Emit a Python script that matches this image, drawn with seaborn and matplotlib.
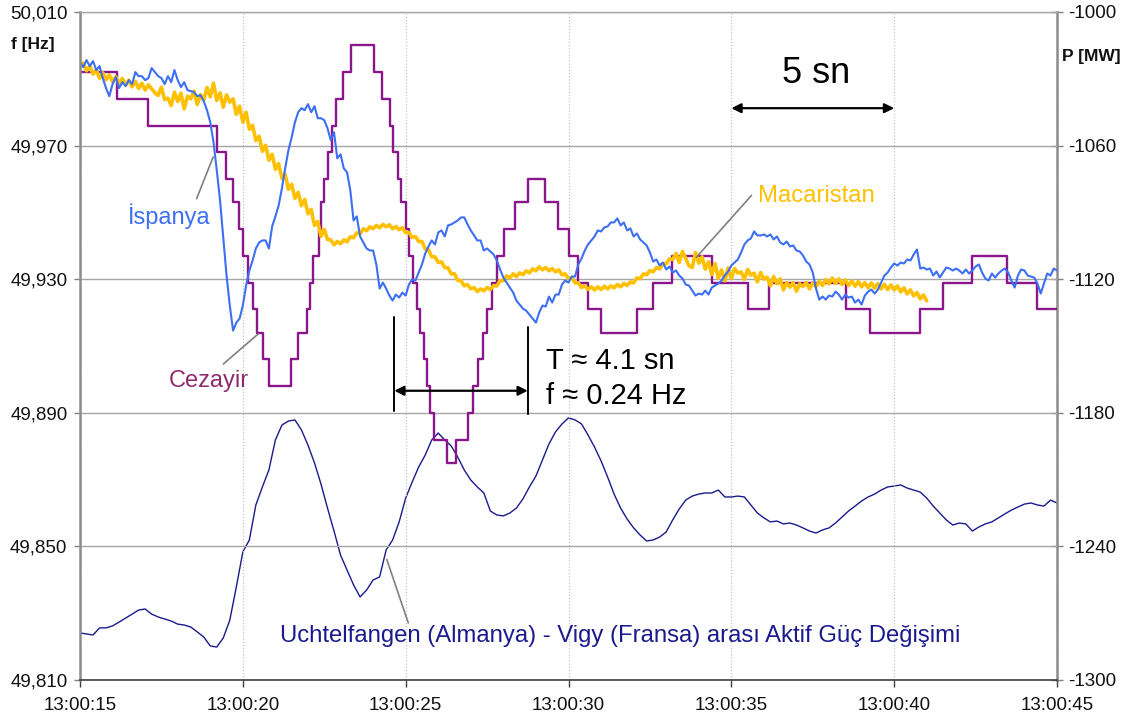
import numpy as np
import matplotlib
matplotlib.use("Agg")
import matplotlib.pyplot as plt
import seaborn as sns

# ---------------------------------------------------------------- data
# time is counted in seconds after 13:00:15
x_ticks = [0, 5, 10, 15, 20, 25, 30]
x_ticklabels = ["13:00:15", "13:00:20", "13:00:25", "13:00:30",
                "13:00:35", "13:00:40", "13:00:45"]
f_ticks = [49.810, 49.850, 49.890, 49.930, 49.970, 50.010]
f_ticklabels = ["49,810", "49,850", "49,890", "49,930", "49,970", "50,010"]
p_ticks = [-1300, -1240, -1180, -1120, -1060, -1000]
p_ticklabels = ["-1300", "-1240", "-1180", "-1120", "-1060", "-1000"]

# İspanya frequency [Hz], one sample every 0.1 s
spain_dt = 0.1
spain_f = [
    49.9950, 49.9935, 49.9956, 49.9938, 49.9953, 49.9926, 49.9938, 49.9902, 49.9872, 49.9848,
    49.9884, 49.9905, 49.9872, 49.9890, 49.9878, 49.9896, 49.9884, 49.9920, 49.9908, 49.9908,
    49.9896, 49.9902, 49.9932, 49.9920, 49.9908, 49.9902, 49.9884, 49.9908, 49.9890, 49.9926,
    49.9896, 49.9875, 49.9890, 49.9866, 49.9863, 49.9860, 49.9848, 49.9851, 49.9833, 49.9806,
    49.9770, 49.9710, 49.9626, 49.9536, 49.9425, 49.9311, 49.9221, 49.9146, 49.9170, 49.9182,
    49.9221, 49.9281, 49.9326, 49.9356, 49.9392, 49.9410, 49.9416, 49.9416, 49.9392, 49.9458,
    49.9488, 49.9521, 49.9572, 49.9632, 49.9686, 49.9725, 49.9770, 49.9800, 49.9812, 49.9806,
    49.9824, 49.9800, 49.9818, 49.9782, 49.9782, 49.9776, 49.9752, 49.9716, 49.9740, 49.9662,
    49.9674, 49.9632, 49.9620, 49.9566, 49.9476, 49.9488, 49.9428, 49.9410, 49.9392, 49.9386,
    49.9386, 49.9344, 49.9272, 49.9290, 49.9272, 49.9251, 49.9236, 49.9254, 49.9245, 49.9260,
    49.9251, 49.9284, 49.9299, 49.9296, 49.9320, 49.9344, 49.9377, 49.9398, 49.9416, 49.9404,
    49.9440, 49.9446, 49.9428, 49.9461, 49.9464, 49.9470, 49.9476, 49.9485, 49.9485, 49.9464,
    49.9446, 49.9431, 49.9416, 49.9416, 49.9386, 49.9392, 49.9383, 49.9374, 49.9356, 49.9329,
    49.9305, 49.9290, 49.9275, 49.9260, 49.9236, 49.9224, 49.9212, 49.9206, 49.9194, 49.9182,
    49.9170, 49.9200, 49.9221, 49.9218, 49.9248, 49.9230, 49.9254, 49.9254, 49.9284, 49.9296,
    49.9290, 49.9308, 49.9308, 49.9344, 49.9362, 49.9386, 49.9404, 49.9416, 49.9428, 49.9446,
    49.9443, 49.9455, 49.9458, 49.9470, 49.9470, 49.9482, 49.9461, 49.9470, 49.9446, 49.9452,
    49.9428, 49.9437, 49.9419, 49.9410, 49.9401, 49.9380, 49.9353, 49.9359, 49.9341, 49.9350,
    49.9329, 49.9338, 49.9320, 49.9326, 49.9311, 49.9302, 49.9284, 49.9281, 49.9266, 49.9251,
    49.9257, 49.9254, 49.9266, 49.9254, 49.9275, 49.9281, 49.9287, 49.9296, 49.9311, 49.9323,
    49.9341, 49.9350, 49.9359, 49.9380, 49.9404, 49.9416, 49.9422, 49.9443, 49.9431, 49.9431,
    49.9434, 49.9428, 49.9434, 49.9419, 49.9428, 49.9410, 49.9404, 49.9413, 49.9398, 49.9401,
    49.9386, 49.9383, 49.9371, 49.9353, 49.9344, 49.9320, 49.9272, 49.9239, 49.9248, 49.9239,
    49.9251, 49.9248, 49.9263, 49.9254, 49.9239, 49.9254, 49.9245, 49.9248, 49.9230, 49.9239,
    49.9224, 49.9251, 49.9263, 49.9269, 49.9257, 49.9269, 49.9290, 49.9311, 49.9320, 49.9335,
    49.9347, 49.9341, 49.9350, 49.9347, 49.9359, 49.9356, 49.9374, 49.9389, 49.9332, 49.9335,
    49.9329, 49.9332, 49.9311, 49.9323, 49.9305, 49.9320, 49.9335, 49.9332, 49.9326, 49.9332,
    49.9326, 49.9317, 49.9329, 49.9317, 49.9326, 49.9338, 49.9344, 49.9320, 49.9302, 49.9296,
    49.9317, 49.9305, 49.9317, 49.9326, 49.9332, 49.9320, 49.9296, 49.9275, 49.9311, 49.9329,
    49.9326, 49.9311, 49.9308, 49.9305, 49.9287, 49.9257, 49.9287, 49.9317, 49.9311, 49.9332,
    49.9326,
]

# Macaristan frequency [Hz], one sample every 0.1 s (record ends near 13:00:41)
hungary_dt = 0.1
hungary_f = [
    49.9935, 49.9947, 49.9924, 49.9938, 49.9914, 49.9926, 49.9902, 49.9918, 49.9897, 49.9912,
    49.9891, 49.9906, 49.9886, 49.9901, 49.9881, 49.9896, 49.9876, 49.9892, 49.9871, 49.9887,
    49.9866, 49.9882, 49.9870, 49.9858, 49.9850, 49.9875, 49.9838, 49.9842, 49.9820, 49.9860,
    49.9832, 49.9857, 49.9810, 49.9848, 49.9840, 49.9863, 49.9823, 49.9852, 49.9836, 49.9874,
    49.9846, 49.9887, 49.9835, 49.9858, 49.9815, 49.9852, 49.9830, 49.9840, 49.9794, 49.9818,
    49.9770, 49.9800, 49.9749, 49.9761, 49.9715, 49.9728, 49.9683, 49.9701, 49.9656, 49.9674,
    49.9629, 49.9646, 49.9602, 49.9614, 49.9569, 49.9584, 49.9542, 49.9560, 49.9520, 49.9539,
    49.9496, 49.9509, 49.9461, 49.9473, 49.9428, 49.9449, 49.9419, 49.9418, 49.9403, 49.9413,
    49.9406, 49.9418, 49.9412, 49.9427, 49.9424, 49.9439, 49.9436, 49.9451, 49.9445, 49.9457,
    49.9451, 49.9461, 49.9454, 49.9464, 49.9457, 49.9463, 49.9451, 49.9458, 49.9448, 49.9454,
    49.9439, 49.9440, 49.9425, 49.9428, 49.9413, 49.9413, 49.9391, 49.9388, 49.9367, 49.9367,
    49.9350, 49.9352, 49.9335, 49.9334, 49.9316, 49.9316, 49.9296, 49.9296, 49.9280, 49.9284,
    49.9271, 49.9275, 49.9263, 49.9271, 49.9265, 49.9275, 49.9269, 49.9281, 49.9280, 49.9296,
    49.9295, 49.9310, 49.9304, 49.9316, 49.9308, 49.9319, 49.9313, 49.9325, 49.9319, 49.9331,
    49.9325, 49.9337, 49.9328, 49.9335, 49.9325, 49.9332, 49.9322, 49.9328, 49.9313, 49.9316,
    49.9302, 49.9305, 49.9289, 49.9289, 49.9275, 49.9281, 49.9269, 49.9277, 49.9268, 49.9277,
    49.9269, 49.9279, 49.9271, 49.9280, 49.9274, 49.9284, 49.9277, 49.9287, 49.9281, 49.9292,
    49.9289, 49.9304, 49.9301, 49.9316, 49.9313, 49.9326, 49.9322, 49.9335, 49.9331, 49.9346,
    49.9346, 49.9361, 49.9359, 49.9377, 49.9350, 49.9383, 49.9362, 49.9340, 49.9335, 49.9380,
    49.9348, 49.9367, 49.9330, 49.9352, 49.9314, 49.9347, 49.9303, 49.9328, 49.9295, 49.9334,
    49.9302, 49.9332, 49.9318, 49.9322, 49.9300, 49.9329, 49.9312, 49.9318, 49.9292, 49.9320,
    49.9300, 49.9306, 49.9280, 49.9308, 49.9286, 49.9301, 49.9268, 49.9290, 49.9276, 49.9290,
    49.9264, 49.9286, 49.9278, 49.9290, 49.9271, 49.9289, 49.9277, 49.9293, 49.9281, 49.9299,
    49.9286, 49.9304, 49.9287, 49.9301, 49.9284, 49.9298, 49.9281, 49.9295, 49.9279, 49.9293,
    49.9277, 49.9290, 49.9274, 49.9289, 49.9273, 49.9287, 49.9271, 49.9285, 49.9269, 49.9283,
    49.9268, 49.9280, 49.9262, 49.9274, 49.9256, 49.9268, 49.9250, 49.9260, 49.9241, 49.9253,
    49.9235,
]

# Cezayir frequency [Hz]: instants [s] where the quantised reading changes, and the held level
algeria_t = [
    0.00, 1.14, 2.10, 4.21, 4.48, 4.70, 4.87, 5.00, 5.16, 5.32, 5.43, 5.61, 5.81,
    6.48, 6.70, 6.96, 7.06, 7.16, 7.35, 7.40, 7.50, 7.62, 7.75, 7.86, 8.08, 8.32,
    9.04, 9.26, 9.52, 9.62, 9.77, 9.87, 10.01, 10.11, 10.21, 10.36, 10.44, 10.57,
    10.64, 10.76, 10.88, 11.26, 11.56, 11.90, 12.08, 12.22, 12.37, 12.50, 12.65,
    12.80, 13.02, 13.36, 13.77, 14.28, 14.68, 15.00, 15.29, 15.61, 16.00, 17.10,
    17.60, 18.18, 19.40, 20.51, 21.15, 23.52, 24.26, 25.79, 26.51, 27.40, 28.48,
    29.40, 30.00,
]
algeria_f = [
    49.992, 49.984, 49.976, 49.968, 49.960, 49.953, 49.945, 49.937, 49.929, 49.921, 49.914, 49.906, 49.898,
    49.906, 49.914, 49.921, 49.929, 49.937, 49.945, 49.953, 49.960, 49.968, 49.976, 49.984, 49.992, 50.000,
    49.992, 49.984, 49.976, 49.968, 49.960, 49.953, 49.945, 49.937, 49.929, 49.921, 49.914, 49.906,
    49.898, 49.890, 49.882, 49.875, 49.882, 49.890, 49.898, 49.906, 49.914, 49.921, 49.929,
    49.937, 49.945, 49.953, 49.960, 49.953, 49.945, 49.937, 49.929, 49.921, 49.914, 49.921,
    49.929, 49.937, 49.929, 49.921, 49.929, 49.921, 49.914, 49.921, 49.929, 49.937, 49.929,
    49.921, 49.921,
]

# Uchtelfangen - Vigy active power [MW], one sample every 0.2 s
tie_dt = 0.2
tie_p = [
    -1278.9, -1279.3, -1279.8, -1276.6, -1276.6, -1275.7, -1274.0, -1272.2, -1270.4, -1268.6,
    -1268.1, -1270.4, -1271.7, -1272.6, -1273.5, -1274.9, -1275.3, -1276.2, -1278.4, -1280.7,
    -1284.7, -1285.2, -1281.1, -1273.1, -1258.2, -1242.5, -1237.1, -1221.4, -1213.3, -1205.7,
    -1192.2, -1185.5, -1183.7, -1183.2, -1187.7, -1194.5, -1202.5, -1212.0, -1222.8, -1233.1,
    -1243.9, -1250.6, -1257.3, -1262.7, -1259.6, -1255.1, -1253.7, -1241.6, -1237.1, -1229.0,
    -1218.3, -1211.1, -1204.3, -1199.0, -1192.2, -1189.1, -1192.2, -1194.9, -1199.9, -1205.7,
    -1210.2, -1213.3, -1216.0, -1224.1, -1225.9, -1226.3, -1225.0, -1222.8, -1218.7, -1213.3,
    -1208.4, -1201.2, -1194.0, -1188.6, -1185.0, -1182.3, -1183.2, -1185.0, -1190.0, -1195.4,
    -1201.6, -1208.8, -1216.5, -1222.8, -1227.7, -1231.7, -1234.9, -1237.6, -1237.1, -1235.8,
    -1233.5, -1228.1, -1223.2, -1219.2, -1217.4, -1216.5, -1216.0, -1216.0, -1214.7, -1217.8,
    -1217.8, -1217.4, -1217.8, -1221.4, -1225.0, -1227.2, -1229.0, -1228.6, -1229.9, -1229.5,
    -1230.4, -1231.7, -1233.1, -1234.0, -1232.6, -1231.7, -1229.5, -1226.8, -1224.1, -1221.9,
    -1219.6, -1217.8, -1216.5, -1214.7, -1213.3, -1212.9, -1212.4, -1213.8, -1214.7, -1215.6,
    -1218.3, -1221.9, -1225.0, -1228.1, -1230.4, -1229.5, -1229.9, -1233.1, -1231.3, -1229.9,
    -1229.0, -1227.2, -1225.4, -1223.7, -1222.3, -1221.0, -1220.5, -1221.4, -1221.9, -1219.2,
    -1220.5,
]

# measured oscillation period
period_start = 9.65
period_T = 4.1

# ---------------------------------------------------------------- style
BLUE = "#3d6ff5"
YELLOW = "#ffc000"
PURPLE = "#8a168c"
PLUM = "#8e2a6e"
NAVY = "#1a1a8e"
LEADER = "#808080"

sns.set_theme(style="white")
plt.rcParams["font.family"] = ["Liberation Sans", "DejaVu Sans"]

spain_t = np.arange(len(spain_f)) * spain_dt
hungary_t = np.arange(len(hungary_f)) * hungary_dt
tie_t = np.arange(len(tie_p)) * tie_dt

fig = plt.figure(figsize=(11.32, 7.22), dpi=100)
fig.patch.set_facecolor("white")
ax = fig.add_axes([80 / 1132, 1 - 680 / 722, 977 / 1132, 668 / 722])
ax2 = ax.twinx()
ax.set_zorder(ax2.get_zorder() + 1)
ax.patch.set_visible(False)

# power on the right axis
sns.lineplot(x=tie_t, y=tie_p, ax=ax2, color=NAVY, lw=1.0,
             estimator=None, sort=False)

# frequencies on the left axis
sns.lineplot(x=algeria_t, y=algeria_f, ax=ax, color=PURPLE, lw=1.7,
             drawstyle="steps-post", estimator=None, sort=False)
sns.lineplot(x=hungary_t, y=hungary_f, ax=ax, color=YELLOW, lw=2.6,
             estimator=None, sort=False)
sns.lineplot(x=spain_t, y=spain_f, ax=ax, color=BLUE, lw=1.5,
             estimator=None, sort=False)

# ---------------------------------------------------------------- axes
ax.set_xlim(0, 30)
ax.set_ylim(49.810, 50.010)
ax2.set_ylim(-1300, -1000)
ax.set_xticks(x_ticks)
ax.set_xticklabels(x_ticklabels)
ax.set_yticks(f_ticks)
ax.set_yticklabels(f_ticklabels)
ax2.set_yticks(p_ticks)
ax2.set_yticklabels(p_ticklabels)
for a in (ax, ax2):
    a.set_xlabel("")
    a.set_ylabel("")

ax.yaxis.grid(True, color="#a6a6a6", lw=1.0, ls="-")
ax.xaxis.grid(True, color="#c4c4c4", lw=0.9, ls=(0, (1, 1.5)))
ax2.grid(False)

ax.tick_params(axis="y", left=True, direction="out", length=4, width=1,
               color="#808080", labelsize=13.5, pad=5, labelcolor="#111111")
ax.tick_params(axis="x", bottom=True, direction="out", length=5, width=1,
               color="#404040", labelsize=13.5, pad=7, labelcolor="#111111")
ax2.tick_params(axis="y", right=True, direction="inout", length=8, width=1,
                color="#808080", labelsize=13.5, pad=4, labelcolor="#111111")

ax.spines["left"].set_color("#8c8c8c")
ax.spines["left"].set_linewidth(1.8)
ax.spines["bottom"].set_color("#404040")
ax.spines["bottom"].set_linewidth(1.2)
ax.spines["top"].set_color("#a6a6a6")
ax.spines["top"].set_linewidth(1.0)
ax.spines["right"].set_visible(False)
for s in ("left", "top", "bottom"):
    ax2.spines[s].set_visible(False)
ax2.spines["right"].set_color("#8c8c8c")
ax2.spines["right"].set_linewidth(1.8)

fig.text(11 / 1132, 1 - 45 / 722, "f [Hz]", fontsize=12.5, fontweight="bold",
         ha="left", va="center", color="#111111")
fig.text(1062 / 1132, 1 - 57 / 722, "P [MW]", fontsize=12.5, fontweight="bold",
         ha="left", va="center", color="#111111")

# ---------------------------------------------------------------- annotations
ax.text(1.48, 49.9466, "İspanya", color=BLUE, fontsize=17, va="baseline")
ax.plot([3.58, 4.09], [49.9541, 49.9666], color=LEADER, lw=1.2)

ax.text(2.71, 49.8976, "Cezayir", color=PLUM, fontsize=17, va="baseline")
ax.plot([4.40, 5.47], [49.9046, 49.9136], color=LEADER, lw=1.2)

ax.text(20.83, 49.9531, "Macaristan", color=YELLOW, fontsize=17.2, va="baseline")
ax.plot([18.93, 20.62], [49.9366, 49.9551], color=LEADER, lw=1.2)

ax.text(6.14, 49.8215, "Uchtelfangen (Almanya) - Vigy (Fransa) arası Aktif Güç Değişimi",
        color=NAVY, fontsize=17.2, va="baseline")
ax.plot([9.42, 10.08], [49.8461, 49.8271], color=LEADER, lw=1.2)

# period marker
period_end = period_start + period_T
ax.plot([period_start, period_start], [49.9186, 49.8906], color="black", lw=1.4)
ax.plot([period_end, period_end], [49.9156, 49.8897], color="black", lw=1.4)
ax.annotate("", xy=(period_end, 49.8966), xytext=(period_start, 49.8966),
            arrowprops=dict(arrowstyle="<|-|>", color="black", lw=1.6,
                            mutation_scale=14, shrinkA=0, shrinkB=0))
ax.text(14.31, 49.9031, f"T ≈ {period_T:.1f} sn", fontsize=21, color="black",
        va="baseline")
ax.text(14.31, 49.8926, f"f ≈ {1 / period_T:.2f} Hz", fontsize=21, color="black",
        va="baseline")

# 5 second scale bar
ax.annotate("", xy=(25, 49.9812), xytext=(20, 49.9812),
            arrowprops=dict(arrowstyle="<|-|>", color="black", lw=1.6,
                            mutation_scale=14, shrinkA=0, shrinkB=0))
ax.text(22.59, 49.9886, "5 sn", fontsize=26, color="black", ha="center",
        va="baseline")

fig.savefig("out.png", dpi=100, facecolor="white")
